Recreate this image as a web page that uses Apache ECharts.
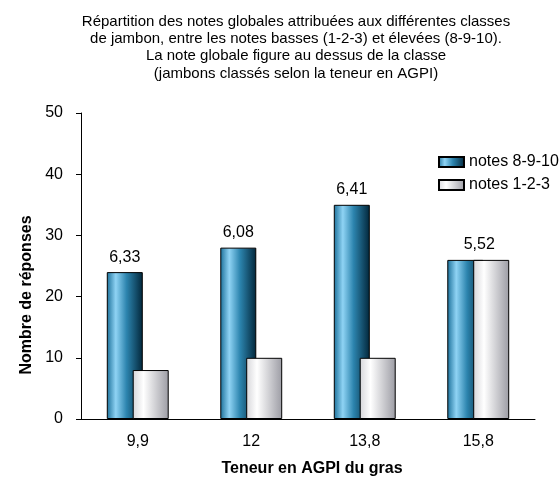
<!DOCTYPE html>
<html>
<head>
<meta charset="utf-8">
<script src="https://cdn.jsdelivr.net/npm/echarts@6/dist/echarts.min.js"></script>
<style>
  html, body { margin: 0; padding: 0; background: #fff; }
  #chart { width: 560px; height: 477px; }
</style>
</head>
<body>
<div id="chart"></div>
<script>
const categories = ['9,9', '12', '13,8', '15,8']
const notesHautes = [24, 28, 35, 26]
const notesBasses = [8, 10, 10, 26]
const noteGlobale = ['6,33', '6,08', '6,41', '5,52']

const font = 'Liberation Sans, Arial, sans-serif'

const blueFill = new echarts.graphic.LinearGradient(0, 0, 1, 0, [
  { offset: 0, color: '#1a6f99' },
  { offset: 0.25, color: '#8fd3f4' },
  { offset: 0.55, color: '#2c84ae' },
  { offset: 1, color: '#02263a' }
])
const greyFill = new echarts.graphic.LinearGradient(0, 0, 1, 0, [
  { offset: 0, color: '#d6d6da' },
  { offset: 0.3, color: '#ffffff' },
  { offset: 1, color: '#9c9ca4' }
])

const chart = echarts.init(document.getElementById('chart'))
chart.setOption({
  animation: false,
  title: {
    text: 'Répartition des notes globales attribuées aux différentes classes\nde jambon, entre les notes basses (1-2-3) et élevées (8-9-10).\nLa note globale figure au dessus de la classe\n(jambons classés selon la teneur en AGPI)',
    left: 291,
    top: 8,
    textAlign: 'center',
    textStyle: {
      fontFamily: font,
      fontSize: 15,
      fontWeight: 'normal',
      color: '#000',
      lineHeight: 17.3
    }
  },
  legend: {
    orient: 'vertical',
    left: 438,
    top: 154,
    padding: 0,
    itemWidth: 25,
    itemHeight: 10,
    itemGap: 7,
    icon: 'rect',
    textStyle: { fontFamily: font, fontSize: 16, color: '#000' },
    data: ['notes 8-9-10', 'notes 1-2-3']
  },
  grid: { left: 81, right: 25, top: 113, bottom: 58, outerBoundsMode: 'none' },
  xAxis: {
    type: 'category',
    data: categories,
    name: 'Teneur en AGPI du gras',
    nameLocation: 'middle',
    nameGap: 42,
    nameTextStyle: { fontFamily: font, fontSize: 16, fontWeight: 'bold', color: '#000', padding: [0, 0, 0, 8] },
    axisLine: { lineStyle: { color: '#000' } },
    axisTick: { length: 6, lineStyle: { color: '#000' } },
    axisLabel: { fontFamily: font, fontSize: 16, color: '#000', margin: 15 }
  },
  yAxis: {
    type: 'value',
    min: 0,
    max: 50,
    interval: 10,
    name: 'Nombre de réponses',
    nameLocation: 'middle',
    nameGap: 43,
    nameTextStyle: { fontFamily: font, fontSize: 16, fontWeight: 'bold', color: '#000', padding: [0, 58, 0, 0] },
    axisLine: { show: true, lineStyle: { color: '#000' } },
    axisTick: { show: true, length: 5, lineStyle: { color: '#000' } },
    axisLabel: { fontFamily: font, fontSize: 16, color: '#000', margin: 18 },
    splitLine: { show: false }
  },
  series: [{
    name: 'notes 8-9-10',
    type: 'bar',
    barWidth: 36,
    barGap: '-28%',
    data: notesHautes.map((v, i) => ({
      value: v,
      label: i === 3 ? { offset: [14, 0] } : {}
    })),
    itemStyle: { color: blueFill, borderColor: '#000', borderWidth: 1 },
    label: {
      show: true,
      position: 'top',
      distance: 7,
      fontFamily: font,
      fontSize: 16,
      color: '#000',
      formatter: p => noteGlobale[p.dataIndex]
    }
  }, {
    name: 'notes 1-2-3',
    type: 'bar',
    barWidth: 36,
    data: notesBasses,
    itemStyle: { color: greyFill, borderColor: '#000', borderWidth: 1 }
  }]
})
</script>
</body>
</html>
